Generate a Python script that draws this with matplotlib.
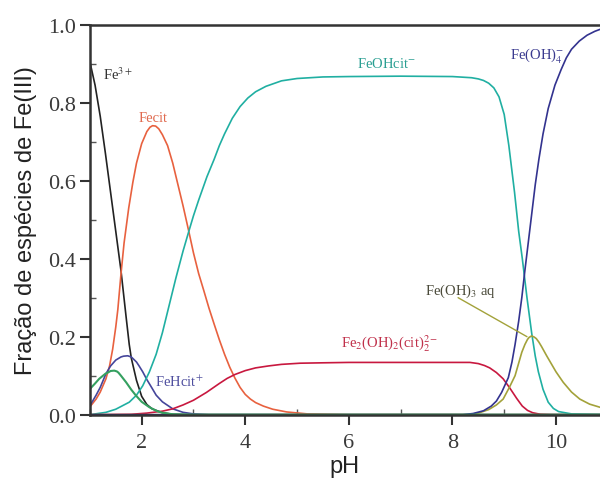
import matplotlib
matplotlib.use("Agg")
import matplotlib.pyplot as plt
from matplotlib.ticker import MultipleLocator, FormatStrFormatter

plt.rcParams['mathtext.fontset'] = 'stix'

# species fractions
ph_fe3 = [1.0, 1.1, 1.2, 1.3, 1.4, 1.5, 1.6, 1.7, 1.76, 1.8, 1.9, 2.0, 2.1, 2.2, 2.4, 2.6, 3.0, 11.0]
fe3 = [0.905, 0.845, 0.765, 0.67, 0.57, 0.47, 0.37, 0.25, 0.18, 0.145, 0.088, 0.047, 0.026, 0.015, 0.005, 0.001, 0.0, 0.0]

ph_fecit = [1.0, 1.12, 1.2, 1.31, 1.38, 1.44, 1.5, 1.54, 1.6, 1.66, 1.75, 1.83, 1.9, 2.0, 2.1, 2.16, 2.21, 2.27,
            2.33, 2.4, 2.5, 2.6, 2.7, 2.8, 2.91, 3.0, 3.1, 3.2, 3.3, 3.4, 3.5, 3.6, 3.7, 3.8, 3.9, 4.0, 4.1,
            4.2, 4.35, 4.53, 4.8, 5.2, 6.0, 11.0]
fecit = [0.02, 0.04, 0.058, 0.092, 0.125, 0.168, 0.225, 0.27, 0.36, 0.44, 0.53, 0.596, 0.645, 0.695, 0.726, 0.737, 0.741, 0.74,
         0.733, 0.718, 0.69, 0.645, 0.59, 0.535, 0.47, 0.415, 0.362, 0.318, 0.273, 0.232, 0.192, 0.155, 0.122, 0.094, 0.07, 0.052, 0.04,
         0.031, 0.022, 0.014, 0.007, 0.002, 0.0, 0.0]

ph_fehcit = [1.0, 1.12, 1.2, 1.31, 1.4, 1.5, 1.6, 1.65, 1.73, 1.8, 1.9, 1.95, 2.02, 2.1, 2.2, 2.28, 2.4, 2.6, 2.8, 3.0, 3.3, 11.0]
fehcit = [0.023, 0.05, 0.07, 0.105, 0.125, 0.14, 0.148, 0.15, 0.151, 0.148, 0.135, 0.125, 0.11, 0.09, 0.068, 0.05, 0.033, 0.015, 0.006, 0.002, 0.0, 0.0]

ph_green = [1.0, 1.1, 1.18, 1.3, 1.36, 1.4, 1.47, 1.52, 1.55, 1.6, 1.7, 1.8, 1.89, 2.0, 2.15, 2.3, 2.4, 2.6, 3.0, 11.0]
green = [0.066, 0.08, 0.092, 0.105, 0.109, 0.112, 0.113, 0.111, 0.108, 0.1, 0.083, 0.064, 0.049, 0.033, 0.019, 0.009, 0.005, 0.001, 0.0, 0.0]

ph_feohcit = [1.0, 1.31, 1.5, 1.76, 1.9, 2.02, 2.15, 2.28, 2.4, 2.53, 2.66, 2.8, 2.91, 3.0, 3.1, 3.26, 3.4, 3.5, 3.6,
              3.75, 3.9, 4.05, 4.2, 4.4, 4.7, 5.0, 5.5, 6.0, 7.0, 8.0, 8.37, 8.5, 8.6, 8.7, 8.8, 8.9, 9.0, 9.09,
              9.2, 9.28, 9.35, 9.44, 9.53, 9.6, 9.66, 9.75, 9.85, 9.95, 10.05, 10.3, 11.0]
feohcit = [0.0, 0.006, 0.014, 0.032, 0.05, 0.074, 0.11, 0.155, 0.21, 0.28, 0.35, 0.42, 0.47, 0.51, 0.55, 0.61, 0.655, 0.69, 0.72,
           0.76, 0.79, 0.812, 0.828, 0.842, 0.856, 0.862, 0.866, 0.867, 0.868, 0.867, 0.864, 0.861, 0.857, 0.85, 0.838, 0.815, 0.77, 0.69,
           0.57, 0.47, 0.4, 0.3, 0.21, 0.15, 0.11, 0.065, 0.032, 0.016, 0.008, 0.002, 0.0]

ph_fe2 = [1.0, 1.8, 2.1, 2.4, 2.6, 2.8, 3.0, 3.25, 3.5, 3.65, 3.8, 4.0, 4.2, 4.45, 4.7, 5.06, 5.5, 6.0, 7.0, 8.0, 8.34,
          8.5, 8.62, 8.72, 8.85, 8.98, 9.1, 9.17, 9.24, 9.3, 9.35, 9.45, 9.55, 9.7, 9.9, 11.0]
fe2 = [0.0, 0.001, 0.004, 0.009, 0.015, 0.025, 0.037, 0.057, 0.08, 0.093, 0.103, 0.113, 0.12, 0.125, 0.129, 0.132, 0.133, 0.134, 0.134, 0.134, 0.134,
       0.131, 0.126, 0.12, 0.108, 0.092, 0.07, 0.056, 0.042, 0.031, 0.022, 0.011, 0.005, 0.001, 0.0, 0.0]

ph_feoh3 = [1.0, 8.3, 8.5, 8.7, 8.85, 8.98, 9.1, 9.21, 9.34, 9.4, 9.45, 9.48, 9.53, 9.58, 9.62, 9.67, 9.72, 9.82, 10.0,
            10.14, 10.3, 10.46, 10.65, 10.85, 11.0]
feoh3 = [0.0, 0.0, 0.004, 0.013, 0.025, 0.04, 0.07, 0.1, 0.16, 0.18, 0.193, 0.198, 0.202, 0.199, 0.195, 0.186, 0.175, 0.151, 0.11,
         0.083, 0.058, 0.04, 0.027, 0.019, 0.016]

ph_feoh4 = [1.0, 8.2, 8.4, 8.6, 8.75, 8.85, 8.95, 9.08, 9.15, 9.21, 9.28, 9.34, 9.4, 9.5, 9.6, 9.67, 9.75, 9.85, 9.98,
            10.1, 10.2, 10.3, 10.45, 10.6, 10.75, 10.85, 11.0]
feoh4 = [0.0, 0.0, 0.003, 0.01, 0.022, 0.035, 0.057, 0.095, 0.135, 0.18, 0.24, 0.3, 0.37, 0.48, 0.59, 0.655, 0.72, 0.785, 0.845,
         0.885, 0.915, 0.937, 0.958, 0.973, 0.983, 0.988, 0.99]

c_black = '#222222'
c_orange = '#E8613F'
c_blue = '#45459A'
c_green = '#35A060'
c_teal = '#20AFA2'
c_red = '#C8183F'
c_olive = '#A3A23A'
c_navy = '#33338F'

fig = plt.figure(figsize=(6, 4.81), dpi=100)
ax = fig.add_axes([0.1498, 0.1358, 0.8502, 0.8108])

lw = 1.2
ax.plot(ph_fe3, fe3, color=c_black, lw=lw)
ax.plot(ph_fecit, fecit, color=c_orange, lw=lw)
ax.plot(ph_fehcit, fehcit, color=c_blue, lw=lw)
ax.plot(ph_feohcit, feohcit, color=c_teal, lw=lw)
ax.plot(ph_fe2, fe2, color=c_red, lw=lw)
ax.plot(ph_feoh3, feoh3, color=c_olive, lw=lw)
ax.plot(ph_feoh4, feoh4, color=c_navy, lw=lw)
ax.plot(ph_green, green, color=c_green, lw=lw + 0.3)

ax.set_xlim(1, 10.85)
ax.set_ylim(0, 1.0)

# species labels
fs = 10.5
serif = 'Liberation Serif'
ax.text(1.25, 0.874, r'Fe$^{3+}$', color='#333333', fontsize=fs, family=serif, ha='left', va='center')
ax.text(2.22, 0.763, 'Fecit', color='#E06A4F', fontsize=fs, family=serif, ha='center', va='center')
ax.text(2.26, 0.085, r'FeHcit$^{+}$', color='#4F4F9F', fontsize=fs, family=serif, ha='left', va='center')
ax.text(6.73, 0.902, r'FeOHcit$^{-}$', color='#2A9F92', fontsize=fs, family=serif, ha='center', va='center')
ax.text(9.11, 0.92, r'Fe(OH)$_4^{-}$', color='#3A3A8F', fontsize=fs, family=serif, ha='left', va='center')
ax.text(6.79, 0.185, r'Fe$_2$(OH)$_2$(cit)$_2^{2-}$', color='#C0304A', fontsize=fs, family=serif,
        ha='center', va='center')
ax.text(8.16, 0.318, r'Fe(OH)$_3$ aq', color='#4A4A3A', fontsize=fs, family=serif, ha='center', va='center')
ax.annotate('', xy=(9.44, 0.2), xytext=(8.11, 0.30),
            arrowprops=dict(arrowstyle='-', color=c_olive, lw=1.0, shrinkA=0, shrinkB=0))

# axes styling
for side in ['left', 'bottom', 'top']:
    ax.spines[side].set_linewidth(1.8)
    ax.spines[side].set_color('#333333')
ax.spines['right'].set_visible(False)

ax.xaxis.set_major_locator(MultipleLocator(2))
ax.xaxis.set_minor_locator(MultipleLocator(1))
ax.yaxis.set_major_locator(MultipleLocator(0.2))
ax.yaxis.set_minor_locator(MultipleLocator(0.1))
ax.tick_params(which='major', direction='out', length=7, width=1.5, color='#333333',
               labelsize=16, labelcolor='#3a3a3a', pad=3)
ax.tick_params(which='minor', direction='in', length=4, width=1.0, color='#555555')
ax.tick_params(axis='x', which='major', pad=6)
for lab in ax.get_xticklabels() + ax.get_yticklabels():
    lab.set_family(serif)
ax.yaxis.set_major_formatter(FormatStrFormatter('%.1f'))

ax.set_xlabel('pH', fontsize=17, family='Liberation Sans', color='#222222', labelpad=2)
ax.set_ylabel('Fração de espécies de Fe(III)', fontsize=17, family='Liberation Sans', color='#222222', labelpad=8)

fig.savefig('out.png', dpi=100)
